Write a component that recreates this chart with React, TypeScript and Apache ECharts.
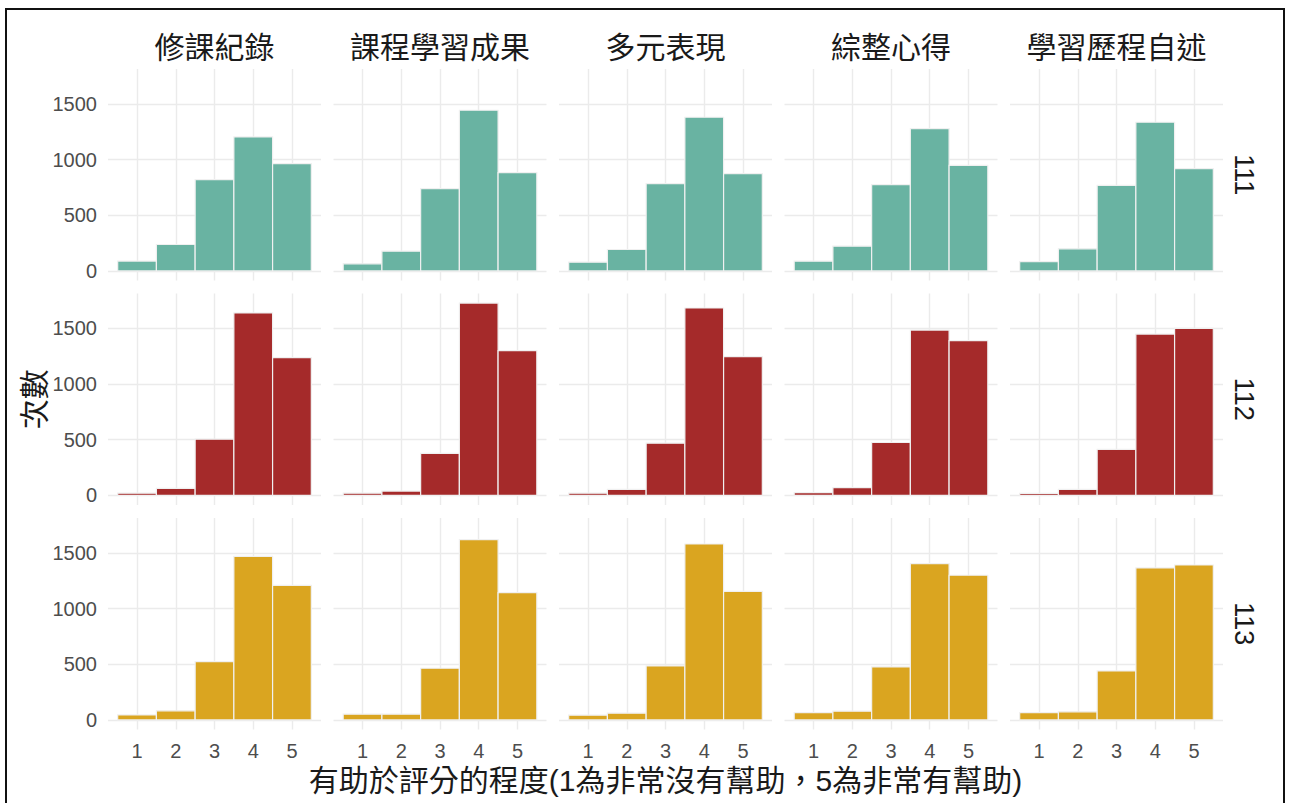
import React, { useEffect, useRef } from 'react';
import * as echarts from 'echarts';

const scores = [1, 2, 3, 4, 5];
const facets = ['修課紀錄', '課程學習成果', '多元表現', '綜整心得', '學習歷程自述'];
const years = ['111', '112', '113'];
const yTicks = [0, 500, 1000, 1500];

// counts per facet (columns), scores 1..5
const counts111 = [
  [88, 237, 819, 1203, 963],
  [63, 177, 738, 1443, 882],
  [78, 192, 783, 1380, 873],
  [87, 222, 774, 1278, 948],
  [84, 198, 768, 1335, 918],
];
const counts112 = [
  [20, 63, 505, 1639, 1237],
  [20, 39, 378, 1727, 1300],
  [20, 54, 469, 1683, 1246],
  [24, 69, 475, 1485, 1390],
  [18, 54, 414, 1449, 1500],
];
const counts113 = [
  [45, 81, 524, 1469, 1209],
  [51, 51, 464, 1619, 1143],
  [42, 60, 485, 1580, 1155],
  [66, 78, 476, 1404, 1299],
  [66, 72, 440, 1365, 1391],
];

const xTitle = '有助於評分的程度(1為非常沒有幫助，5為非常有幫助)';
const yTitle = '次數';

export default function App() {
  const ref = useRef<HTMLDivElement>(null);
  useEffect(() => {
    const chart = echarts.init(ref.current!, null, { renderer: 'svg' });
    const rows = [counts111, counts112, counts113];
    const colors = ['#69B3A2', '#A52A2A', '#DAA520'];
    const font = "'Liberation Sans', 'Noto Sans CJK TC', sans-serif";
    const colLeft = [108, 333.5, 559, 784.5, 1010];
    const rowTop = [69, 293.5, 518];
    const pw = 213;
    const ph = 211.5;
    const maxV = Math.max(...rows.flat(2));
    const yMin = -0.05 * maxV;
    const yMax = 1.05 * maxV;
    const gridLine = { show: true, lineStyle: { color: '#EBEBEB', width: 1.4 } };

    const grid: any[] = [];
    const xAxis: any[] = [];
    const yAxis: any[] = [];
    const series: any[] = [];
    const graphic: any[] = [];

    rows.forEach((row, r) => {
      row.forEach((vals, c) => {
        const idx = grid.length;
        grid.push({ left: colLeft[c], top: rowTop[r], width: pw, height: ph, outerBoundsMode: 'none', containLabel: false });
        xAxis.push({
          type: 'value', gridIndex: idx, min: 0.25, max: 5.75,
          axisLine: { show: false },
          axisTick: { show: false, customValues: scores },
          axisLabel: { show: r === 2, customValues: scores, formatter: (v: number) => String(v), color: '#4D4D4D', fontSize: 20, margin: 11, fontFamily: font },
          splitLine: gridLine,
        });
        yAxis.push({
          type: 'value', gridIndex: idx, min: yMin, max: yMax,
          axisLine: { show: false },
          axisTick: { show: false, customValues: yTicks },
          axisLabel: { show: c === 0, customValues: yTicks, formatter: (v: number) => String(v), color: '#4D4D4D', fontSize: 20, margin: 11, fontFamily: font },
          splitLine: gridLine,
        });
        const color = colors[r];
        series.push({
          type: 'custom', xAxisIndex: idx, yAxisIndex: idx,
          name: years[r] + ' ' + facets[c],
          data: scores.map((s, i) => [s, vals[i]]),
          encode: { x: 0, y: 1 },
          renderItem: (params: any, api: any) => {
            const x = api.value(0);
            const y = api.value(1);
            const p0 = api.coord([x - 0.5, y]);
            const p1 = api.coord([x + 0.5, 0]);
            return {
              type: 'rect',
              shape: { x: p0[0], y: p0[1], width: p1[0] - p0[0], height: p1[1] - p0[1] },
              style: { fill: color, stroke: '#F0F0F0', lineWidth: 1.2 },
            };
          },
        });
      });
    });

    facets.forEach((f, c) => {
      graphic.push({
        type: 'text', x: colLeft[c] + pw / 2, y: 47,
        style: { text: f, fill: '#1A1A1A', fontSize: 30, fontFamily: font, textAlign: 'center', textVerticalAlign: 'middle' },
      });
    });
    years.forEach((y, r) => {
      graphic.push({
        type: 'text', x: 1244, y: rowTop[r] + ph / 2, rotation: -Math.PI / 2,
        style: { text: y, fill: '#1A1A1A', fontSize: 27, fontFamily: font, textAlign: 'center', textVerticalAlign: 'middle' },
      });
    });
    graphic.push({
      type: 'text', x: (colLeft[0] + colLeft[4] + pw) / 2, y: 780,
      style: { text: xTitle, fill: '#1A1A1A', fontSize: 30, fontFamily: font, textAlign: 'center', textVerticalAlign: 'middle' },
    });
    graphic.push({
      type: 'text', x: 34, y: rowTop[1] + ph / 2, rotation: Math.PI / 2,
      style: { text: yTitle, fill: '#1A1A1A', fontSize: 30, fontFamily: font, textAlign: 'center', textVerticalAlign: 'middle' },
    });
    graphic.push({
      type: 'rect', shape: { x: 6, y: 9, width: 1278, height: 820 },
      style: { fill: 'none', stroke: '#111111', lineWidth: 2 }, z: 100,
    });

    chart.setOption({
      animation: false,
      backgroundColor: '#FFFFFF',
      grid, xAxis, yAxis, series, graphic,
    });
    return () => chart.dispose();
  }, []);
  return <div ref={ref} style={{ position: 'fixed', left: 0, top: 0, width: 1291, height: 803 }} />;
}
